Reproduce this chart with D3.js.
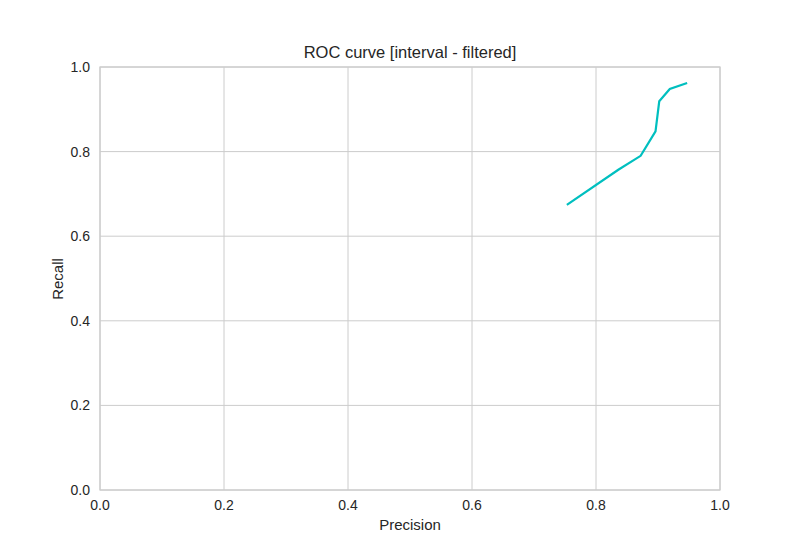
<!DOCTYPE html>
<html><head><meta charset="utf-8">
<script src="https://cdn.jsdelivr.net/npm/d3@7"></script>
<style>body{margin:0;background:#fff}text{font-family:"Liberation Sans",Arial,sans-serif}</style>
</head><body>
<svg id="c" width="800" height="550"></svg>
<script>
const precision = [0.753, 0.836, 0.872, 0.896, 0.902, 0.919, 0.947];
const recall    = [0.674, 0.757, 0.790, 0.848, 0.919, 0.948, 0.962];
const ticks = [0, 0.2, 0.4, 0.6, 0.8, 1.0];
const svg = d3.select("#c");
const x = d3.scaleLinear().domain([0,1]).range([100,720]);
const y = d3.scaleLinear().domain([0,1]).range([490,67]);
const g = svg.append("g");
ticks.forEach(t=>{
  g.append("line").attr("x1",x(t)).attr("x2",x(t)).attr("y1",67).attr("y2",490).attr("stroke","#cccccc").attr("stroke-width",1);
  g.append("line").attr("y1",y(t)).attr("y2",y(t)).attr("x1",100).attr("x2",720).attr("stroke","#cccccc").attr("stroke-width",1);
  g.append("text").attr("x",x(t)).attr("y",510).attr("text-anchor","middle").attr("font-size",14).attr("fill","#262626").text(t.toFixed(1));
  g.append("text").attr("x",90).attr("y",y(t)+5).attr("text-anchor","end").attr("font-size",14).attr("fill","#262626").text(t.toFixed(1));
});
g.append("rect").attr("x",100).attr("y",67).attr("width",620).attr("height",423).attr("fill","none").attr("stroke","#cccccc").attr("stroke-width",1.25);
const line = d3.line().x((d,i)=>x(precision[i])).y((d,i)=>y(d));
g.append("path").attr("d",line(recall)).attr("fill","none").attr("stroke","#00bfbf").attr("stroke-width",2.2);
g.append("text").attr("x",410).attr("y",58).attr("text-anchor","middle").attr("font-size",16.5).attr("fill","#262626").text("ROC curve [interval - filtered]");
g.append("text").attr("x",410).attr("y",530).attr("text-anchor","middle").attr("font-size",15).attr("fill","#262626").text("Precision");
g.append("text").attr("transform","translate(63,279) rotate(-90)").attr("text-anchor","middle").attr("font-size",15).attr("fill","#262626").text("Recall");
</script></body></html>
